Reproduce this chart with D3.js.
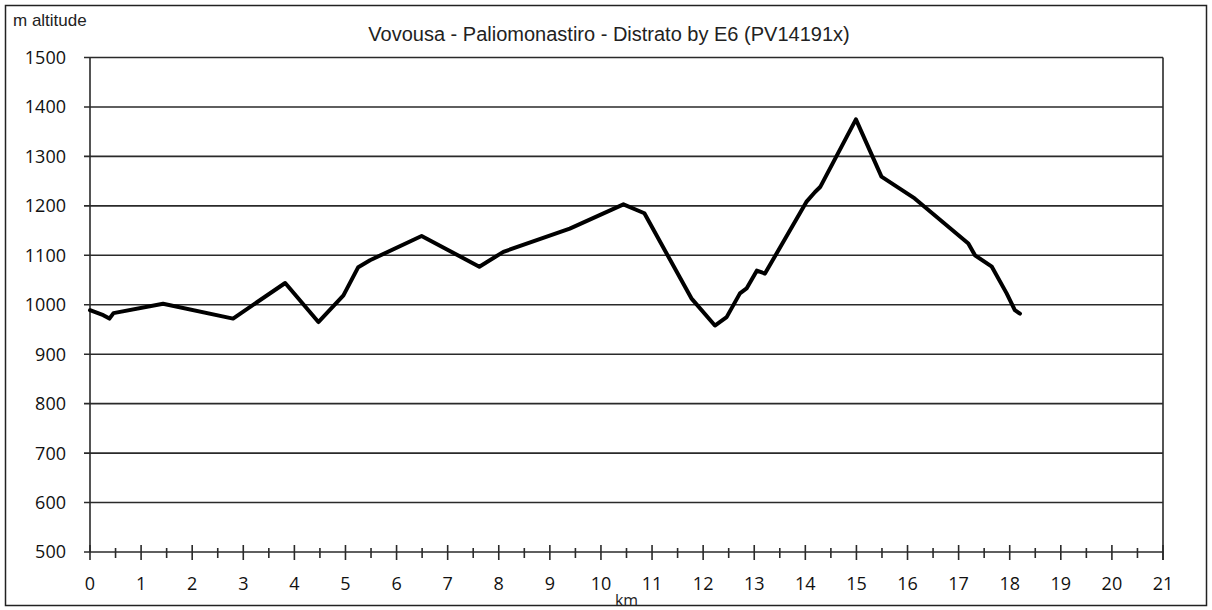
<!DOCTYPE html>
<html>
<head>
<meta charset="utf-8">
<script src="https://cdn.jsdelivr.net/npm/d3@7"></script>
<style>
  html, body { margin: 0; padding: 0; background: #fff; }
  svg { display: block; }
</style>
</head>
<body>
<div id="chart"></div>
<script>
const km = [0, 0.26, 0.38, 0.46, 1.43, 2.80, 3.82, 4.47, 4.96, 5.25, 5.48, 6.49, 7.62, 8.09, 9.39,
    10.44, 10.85, 11.77, 12.23, 12.46, 12.72, 12.85, 13.05, 13.21, 14.02, 14.19, 14.29, 14.99,
    15.49, 16.14, 17.19, 17.32, 17.65, 17.94, 18.10, 18.20];
const altitude = [989, 979, 972, 983, 1002, 972, 1044, 965, 1019, 1076, 1090, 1139, 1077, 1107, 1154,
    1203, 1185, 1013, 958, 975, 1023, 1033, 1069, 1063, 1208, 1228, 1238, 1375,
    1259, 1215, 1124, 1100, 1077, 1023, 989, 982];

const yTicks = [500, 600, 700, 800, 900, 1000, 1100, 1200, 1300, 1400, 1500];
const xTicks = d3.range(0, 22);
const xMinor = d3.range(0.5, 21, 1);

const titleText = 'Vovousa - Paliomonastiro - Distrato by E6 (PV14191x)';

const W = 1212, H = 610;
const margin = { top: 57.5, left: 90, right: 49, bottom: 58 };
const width = W - margin.left - margin.right;
const height = H - margin.top - margin.bottom;

const svg = d3.select('#chart').append('svg')
    .attr('width', W)
    .attr('height', H);

// Rahmen
svg.append('rect')
    .attr('x', 5.5).attr('y', 5.5)
    .attr('width', 1201).attr('height', 600)
    .attr('fill', 'none')
    .attr('stroke', '#222')
    .attr('stroke-width', 1.5);

const x = d3.scaleLinear().domain([0, 21]).range([0, width]);
const y = d3.scaleLinear().domain([500, 1500]).range([height, 0]);

const g = svg.append('g')
    .attr('transform', `translate(${margin.left},${margin.top})`);

const tickFont = '"Open Sans", sans-serif';

// Gitterlinien + Y-Ticks
yTicks.forEach(t => {
    g.append('line')
        .attr('x1', -6).attr('x2', width)
        .attr('y1', y(t)).attr('y2', y(t))
        .attr('stroke', '#2a2a2a')
        .attr('stroke-width', 1.6);

    g.append('text')
        .attr('x', -24)
        .attr('y', y(t))
        .attr('dy', '0.36em')
        .attr('text-anchor', 'end')
        .style('font-family', tickFont)
        .style('font-size', '18px')
        .style('fill', '#111')
        .text(t);
});

// Achsen
g.append('line')
    .attr('x1', 0).attr('x2', 0)
    .attr('y1', 0).attr('y2', height)
    .attr('stroke', '#2a2a2a').attr('stroke-width', 1.6);

g.append('line')
    .attr('x1', width).attr('x2', width)
    .attr('y1', 0).attr('y2', height + 8)
    .attr('stroke', '#2a2a2a').attr('stroke-width', 1.6);

xTicks.forEach(t => {
    g.append('line')
        .attr('x1', x(t)).attr('x2', x(t))
        .attr('y1', height - 7).attr('y2', height + 8)
        .attr('stroke', '#2a2a2a').attr('stroke-width', 1.6);

    g.append('text')
        .attr('x', x(t))
        .attr('y', height + 38)
        .attr('text-anchor', 'middle')
        .style('font-family', tickFont)
        .style('font-size', '18px')
        .style('fill', '#111')
        .text(t);
});

xMinor.forEach(t => {
    g.append('line')
        .attr('x1', x(t)).attr('x2', x(t))
        .attr('y1', height - 4).attr('y2', height + 6)
        .attr('stroke', '#2a2a2a').attr('stroke-width', 1.6);
});

// Höhenprofil
const points = km.map((k, i) => [k, altitude[i]]);
const line = d3.line()
    .x(d => x(d[0]))
    .y(d => y(d[1]));

g.append('path')
    .datum(points)
    .attr('d', line)
    .attr('fill', 'none')
    .attr('stroke', '#000')
    .attr('stroke-width', 4)
    .attr('stroke-linejoin', 'round')
    .attr('stroke-linecap', 'round');

// Beschriftungen
svg.append('text')
    .attr('x', 609)
    .attr('y', 41)
    .attr('text-anchor', 'middle')
    .style('font-family', '"Liberation Sans", Arial, sans-serif')
    .style('font-size', '20px')
    .style('fill', '#222')
    .text(titleText);

svg.append('text')
    .attr('x', 13)
    .attr('y', 26)
    .style('font-family', '"Liberation Sans", Arial, sans-serif')
    .style('font-size', '17px')
    .style('fill', '#222')
    .text('m altitude');

svg.append('text')
    .attr('x', margin.left + x(10.5))
    .attr('y', 606)
    .attr('text-anchor', 'middle')
    .style('font-family', tickFont)
    .style('font-size', '16px')
    .style('fill', '#222')
    .text('km');
</script>
</body>
</html>
